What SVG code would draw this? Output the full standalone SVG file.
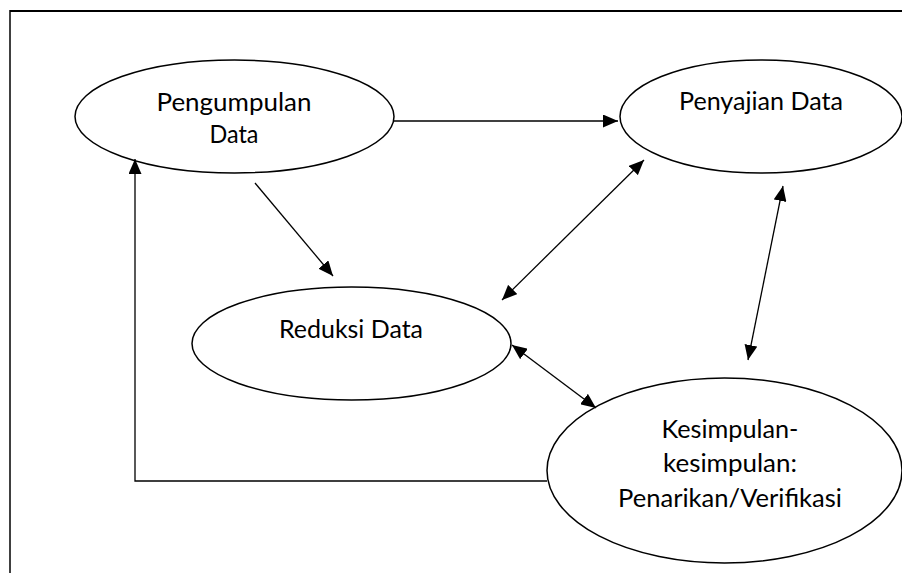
<svg xmlns="http://www.w3.org/2000/svg" width="902" height="573" viewBox="0 0 902 573">
<style>
.node ellipse{fill:#fff;stroke:#000;stroke-width:1.5}
.node text{font-family:Lato,"Open Sans","Liberation Sans",sans-serif;font-size:24.5px;fill:#000;text-anchor:middle}
.conn line,.conn polyline{stroke:#000;stroke-width:1.3;fill:none}
.frame{stroke:#000;fill:none}
</style>
<defs>
<marker id="ah" markerUnits="userSpaceOnUse" markerWidth="16" markerHeight="13" refX="15" refY="6.5" orient="auto-start-reverse" viewBox="0 0 16 13">
<path d="M0,0 L15,6.5 L0,13 z" fill="#000"/>
</marker>
</defs>
<rect width="902" height="573" fill="#fff"/>
<line class="frame" x1="10" y1="11" x2="902" y2="11" stroke-width="2"/>
<line class="frame" x1="10" y1="10" x2="10" y2="573" stroke-width="1.5"/>
<g id="n-pengumpulan" class="node">
<ellipse cx="234.5" cy="116.5" rx="159.5" ry="56.5"/>
<text x="234" y="111" textLength="155" lengthAdjust="spacingAndGlyphs">Pengumpulan</text>
<text x="234" y="143" textLength="49" lengthAdjust="spacingAndGlyphs">Data</text>
</g>
<g id="n-penyajian" class="node">
<ellipse cx="761" cy="116.5" rx="141" ry="56.5"/>
<text x="761" y="110" textLength="164" lengthAdjust="spacingAndGlyphs">Penyajian Data</text>
</g>
<g id="n-reduksi" class="node">
<ellipse cx="351.5" cy="343.5" rx="159.5" ry="56.5"/>
<text x="351" y="338" textLength="144" lengthAdjust="spacingAndGlyphs">Reduksi Data</text>
</g>
<g id="n-kesimpulan" class="node">
<ellipse cx="724.5" cy="470.5" rx="177.5" ry="92.5"/>
<text x="730" y="438" textLength="137" lengthAdjust="spacingAndGlyphs">Kesimpulan-</text>
<text x="730" y="472" textLength="134" lengthAdjust="spacingAndGlyphs">kesimpulan:</text>
<text x="730" y="507" textLength="224" lengthAdjust="spacingAndGlyphs">Penarikan/Verifikasi</text>
</g>
<g id="connectors" class="conn">
<line x1="394" y1="121" x2="618" y2="121" marker-end="url(#ah)"/>
<line x1="255" y1="183" x2="333" y2="276" marker-end="url(#ah)"/>
<line x1="502" y1="300" x2="644" y2="160" marker-start="url(#ah)" marker-end="url(#ah)"/>
<line x1="748" y1="360" x2="783" y2="186" marker-start="url(#ah)" marker-end="url(#ah)"/>
<line x1="512" y1="345" x2="596" y2="408" marker-start="url(#ah)" marker-end="url(#ah)"/>
<polyline points="547,481 135,481 135,159" marker-end="url(#ah)"/>
</g>
</svg>
